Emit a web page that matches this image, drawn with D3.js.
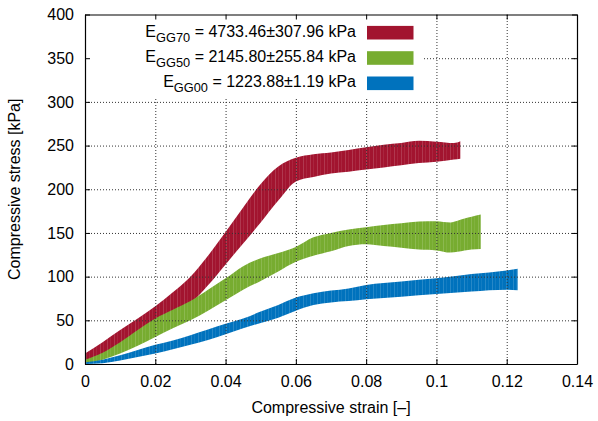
<!DOCTYPE html>
<html lang="en">
<head>
  <meta charset="utf-8">
  <title>Compressive stress-strain</title>
  <script src="https://d3js.org/d3.v7.min.js"></script>
  <style>
    body { margin: 0; background: #fff; }
    text { font-family: "Liberation Sans", Arial, Helvetica, sans-serif; fill: #000; }
    .tick_text { font-size: 16px; }
    .axis_title { font-size: 16px; }
    .legend_text { font-size: 16px; }
    .grid line { stroke: #333; stroke-width: 1; stroke-dasharray: 1,2; }
    .grid path { display: none; }
  </style>
</head>
<body>
<div id="chart"></div>
<script type="text/javascript">
// GG70 band (lower / upper stress in kPa)
var strain70 = [0, 0.005, 0.01, 0.015, 0.02, 0.025, 0.03, 0.035, 0.04, 0.045, 0.05, 0.055, 0.06, 0.065, 0.07, 0.075, 0.08, 0.085, 0.09, 0.095, 0.1, 0.105, 0.1068];
var upper70  = [12, 25, 39, 52, 66, 82, 100, 124, 151, 179, 206, 226, 236, 240, 242, 245, 248, 251, 253, 255.5, 254.5, 253, 255];
var lower70  = [0, 8, 18, 30, 42, 55, 69, 90, 114, 138, 162, 187, 209, 214, 218, 220, 222.5, 225, 227.5, 230, 231.5, 234, 235];

// GG50 band
var strain50 = [0, 0.005, 0.01, 0.015, 0.02, 0.025, 0.03, 0.035, 0.04, 0.045, 0.05, 0.055, 0.06, 0.065, 0.07, 0.075, 0.08, 0.085, 0.09, 0.095, 0.1, 0.104, 0.106, 0.108, 0.11, 0.1126];
var upper50  = [5, 13, 25, 39, 52, 62, 72, 85, 98, 112, 121, 127, 134, 145, 150, 154, 156.5, 159, 161, 163, 163.5, 162, 164, 166.5, 168.5, 171];
var lower50  = [0, 5, 12, 21, 31, 41, 50, 61, 73, 85, 95, 106, 117, 124, 129, 135, 137, 135, 133, 131, 130, 127.5, 128.5, 130, 131, 131.5];

// GG00 band
var strain00 = [0, 0.005, 0.01, 0.015, 0.02, 0.025, 0.03, 0.035, 0.04, 0.045, 0.05, 0.055, 0.06, 0.065, 0.07, 0.075, 0.08, 0.09, 0.1, 0.11, 0.12, 0.1231];
var upper00  = [2, 5, 10, 16, 22, 27, 33, 39.5, 46, 52, 60, 67.5, 76, 81, 84, 86.5, 90.5, 94.5, 98, 103, 107, 109];
var lower00  = [0, 1, 4, 8, 12, 17, 22, 27.5, 34, 41, 47, 53, 61, 67.5, 70.5, 72, 74, 77, 80, 83, 85, 84.5];

var seriesNames  = ["GG70", "GG50", "GG00"];
var seriesLabels = [" = 4733.46\u00b1307.96 kPa", " = 2145.80\u00b1255.84 kPa", " = 1223.88\u00b11.19 kPa"];
var seriesColors = ["#a2142f", "#77ac30", "#0072bd"];

var xTicks = [0, 0.02, 0.04, 0.06, 0.08, 0.1, 0.12, 0.14];
var yTicks = [0, 50, 100, 150, 200, 250, 300, 350, 400];

var W = 598, H = 421;
var margin = {top: 14.5, right: 21, bottom: 57, left: 85}
  , width = W - margin.left - margin.right
  , height = H - margin.top - margin.bottom;

var root = d3.select("#chart").append("svg")
    .attr("width", W)
    .attr("height", H);

// gnuplot draws the bands as many thin slices, the seams show as light streaks
var defs = root.append("defs");
seriesColors.forEach(function(c, i) {
  var p = defs.append("pattern")
      .attr("id", "streak" + i)
      .attr("patternUnits", "userSpaceOnUse")
      .attr("width", 7)
      .attr("height", 10);
  p.append("rect").attr("width", 7).attr("height", 10).style("fill", c);
  p.append("rect").attr("x", 1).attr("width", 0.7).attr("height", 10).style("fill", "#fff").style("opacity", 0.22);
  p.append("rect").attr("x", 4.3).attr("width", 0.5).attr("height", 10).style("fill", "#fff").style("opacity", 0.14);
});

var svg = root.append("g")
    .attr("transform", "translate(" + margin.left + "," + margin.top + ")");

var x = d3.scaleLinear().domain([0, 0.14]).range([0, width]);
var y = d3.scaleLinear().domain([0, 400]).range([height, 0]);

function band(strain, lo, hi) {
  return strain.map(function(s, i) { return {s: s, lo: lo[i], hi: hi[i]}; });
}
var bands = [
  band(strain70, lower70, upper70),
  band(strain50, lower50, upper50),
  band(strain00, lower00, upper00)
];

var area = d3.area()
    .curve(d3.curveMonotoneX)
    .x(function(d) { return x(d.s); })
    .y0(function(d) { return y(d.lo); })
    .y1(function(d) { return y(d.hi); });

svg.selectAll(".band")
    .data(bands)
  .enter().append("path")
    .attr("class", "band")
    .attr("d", area)
    .style("fill", function(d, i) { return "url(#streak" + i + ")"; });

// grid lines sit on top of the bands
var inner = function(v) { return v !== 0 && v !== 0.14 && v !== 400; };
svg.append("g")
    .attr("class", "grid")
    .attr("transform", "translate(0," + height + ")")
    .call(d3.axisBottom(x).tickValues(xTicks.filter(inner)).tickSize(-height).tickFormat(""));
svg.append("g")
    .attr("class", "grid")
    .call(d3.axisLeft(y).tickValues(yTicks.filter(inner)).tickSize(-width).tickFormat(""));

// key box hides grid behind it
svg.append("rect")
    .attr("x", 0)
    .attr("y", 0)
    .attr("width", 338)
    .attr("height", 82.5)
    .style("fill", "#fff");

var key = svg.append("g").attr("class", "legend");
seriesNames.forEach(function(name, i) {
  var cy = 18.2 + i * 25.3;
  var t = key.append("text")
      .attr("class", "legend_text")
      .attr("x", 271)
      .attr("y", cy + 4)
      .attr("text-anchor", "end");
  t.append("tspan").text("E");
  t.append("tspan").attr("dy", 5).style("font-size", "12.8px").text(name);
  t.append("tspan").attr("dy", -5).text(seriesLabels[i]);
  key.append("rect")
      .attr("x", 282)
      .attr("y", cy - 6.8)
      .attr("width", 46.5)
      .attr("height", 13.6)
      .style("fill", seriesColors[i]);
});

// border with inward ticks on all four sides
var fmtX = function(d) { return d === 0 ? "0" : String(+d.toFixed(2)); };
var ax = [
  svg.append("g").attr("transform", "translate(0," + height + ")")
     .call(d3.axisBottom(x).tickValues(xTicks).tickSizeInner(-5).tickSizeOuter(0).tickPadding(12).tickFormat(fmtX)),
  svg.append("g")
     .call(d3.axisTop(x).tickValues(xTicks).tickSizeInner(-5).tickSizeOuter(0).tickFormat("")),
  svg.append("g")
     .call(d3.axisLeft(y).tickValues(yTicks).tickSizeInner(-5).tickSizeOuter(0).tickPadding(11).tickFormat(d3.format("d"))),
  svg.append("g").attr("transform", "translate(" + width + ",0)")
     .call(d3.axisRight(y).tickValues(yTicks).tickSizeInner(-5).tickSizeOuter(0).tickFormat(""))
];
ax.forEach(function(g) {
  g.selectAll("path").style("stroke", "#000").style("stroke-width", 1.2);
  g.selectAll("line").style("stroke", "#000");
  g.selectAll("text").attr("class", "tick_text").style("font-size", "16px").style("font-family", null);
});

svg.append("text")
    .attr("class", "axis_title")
    .attr("x", width / 2)
    .attr("y", height + 49)
    .attr("text-anchor", "middle")
    .text("Compressive strain [\u2013]");

svg.append("text")
    .attr("class", "axis_title")
    .attr("transform", "translate(" + (20 - margin.left) + "," + (height / 2) + ") rotate(-90)")
    .attr("text-anchor", "middle")
    .text("Compressive stress [kPa]");
</script>
</body>
</html>
